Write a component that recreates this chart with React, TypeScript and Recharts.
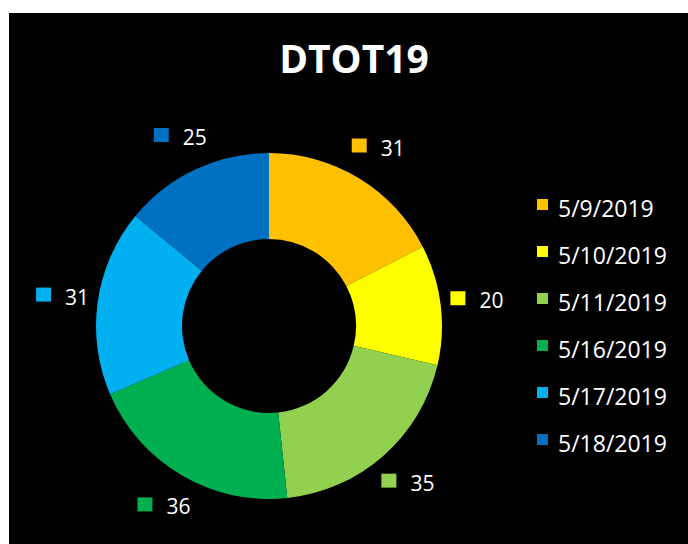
import { Cell, Legend, Pie, PieChart } from "recharts";

const dates = ["5/9/2019", "5/10/2019", "5/11/2019", "5/16/2019", "5/17/2019", "5/18/2019"];
const counts = [31, 20, 35, 36, 31, 25];
const colors = ["#FFC000", "#FFFF00", "#92D050", "#00B050", "#00B0F0", "#0070C0"];

const data = dates.map((d, i) => ({ name: d, value: counts[i] }));

const FONT = "'Open Sans', 'DejaVu Sans', sans-serif";
const RAD = Math.PI / 180;

function ValueLabel(props: any) {
  const { cx, cy, midAngle, outerRadius, value, index } = props;
  const r = outerRadius + 36;
  const x = cx + r * Math.cos(-midAngle * RAD);
  const y = cy + r * Math.sin(-midAngle * RAD);
  const left = x - 26;
  return (
    <g>
      <rect x={left} y={y - 9} width={15} height={14} fill={colors[index]} />
      <text
        x={left + 29}
        y={y}
        fill="#fff"
        fontSize={21}
        fontFamily={FONT}
        dominantBaseline="central"
      >
        {value}
      </text>
    </g>
  );
}

function DateLegend({ payload }: any) {
  return (
    <div style={{ fontFamily: FONT }}>
      {(payload ?? []).map((p: any, i: number) => (
        <div key={i} style={{ height: 47, display: "flex", alignItems: "center" }}>
          <span
            style={{
              width: 11,
              height: 11,
              background: colors[i],
              display: "inline-block",
              marginRight: 10,
              marginTop: -7,
            }}
          />
          <span style={{ color: "#fff", fontSize: 23 }}>{dates[i]}</span>
        </div>
      ))}
    </div>
  );
}

export default function App() {
  return (
    <div
      style={{
        position: "absolute",
        left: 9,
        top: 13,
        width: 679,
        height: 531,
        background: "#000",
      }}
    >
      <div
        style={{
          position: "absolute",
          left: 0,
          width: 690,
          top: 20,
          textAlign: "center",
          color: "#fff",
          fontFamily: FONT,
          fontWeight: 700,
          fontSize: 39,
          lineHeight: "50px",
        }}
      >
        DTOT19
      </div>
      <PieChart width={679} height={531} margin={{ top: 0, right: 0, bottom: 0, left: 0 }}>
        <Pie
          data={data}
          dataKey="value"
          nameKey="name"
          cx={260}
          cy={313}
          innerRadius={87}
          outerRadius={173}
          startAngle={90}
          endAngle={-270}
          stroke="none"
          label={ValueLabel}
          labelLine={false}
          isAnimationActive={false}
        >
          {data.map((d, i) => (
            <Cell key={d.name} fill={colors[i]} />
          ))}
        </Pie>
        <Legend
          layout="vertical"
          verticalAlign="top"
          align="right"
          content={<DateLegend />}
          wrapperStyle={{ top: 171, left: 528, width: 150 }}
        />
      </PieChart>
    </div>
  );
}
